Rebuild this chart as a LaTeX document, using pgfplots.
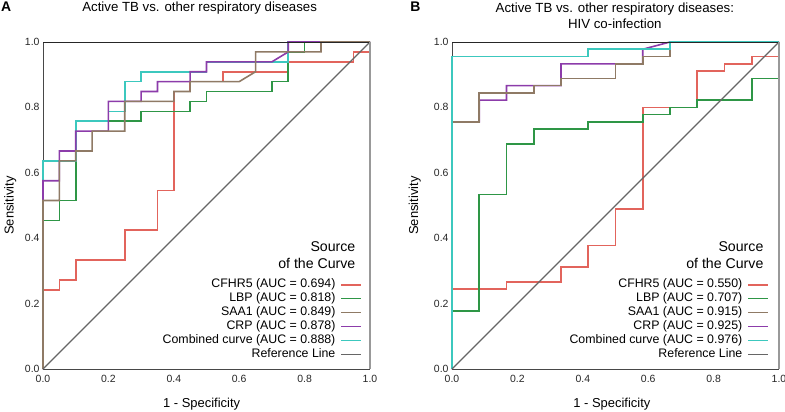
\documentclass[border=0pt]{standalone}
\usepackage{fontspec}
\setmainfont{Liberation Sans}
\usepackage{pgfplots}
\pgfplotsset{compat=1.18}

\definecolor{cRed}{HTML}{E2645C}
\definecolor{cGreen}{HTML}{2E9646}
\definecolor{cBrown}{HTML}{8F7A65}
\definecolor{cPurple}{HTML}{8C3CAA}
\definecolor{cCyan}{HTML}{3CC8BE}
\definecolor{cRef}{HTML}{666666}

\tikzset{
  srcnode/.style={anchor=base east, font=\fontsize{14.2}{16}\selectfont},
  curve/.style={line width=1.6bp, line join=miter},
  refline/.style={cRef, line width=1.2bp},
}

\pgfplotsset{
  roc/.style={
    scale only axis, width=327bp, height=327bp,
    xmin=0, xmax=1, ymin=0, ymax=1,
    axis lines=left,
    axis line style={-, draw=black!72, line width=0.9bp},
    xtick={0,0.2,0.4,0.6,0.8,1}, ytick={0,0.2,0.4,0.6,0.8,1},
    xticklabels={0.0,0.2,0.4,0.6,0.8,1.0},
    yticklabels={0.0,0.2,0.4,0.6,0.8,1.0},
    major tick length=0pt,
    tick label style={font=\fontsize{10.5}{12}\selectfont, text=black!85},
    xticklabel style={yshift=-3bp},
    clip=false,
    xlabel={1 - Specificity}, ylabel={Sensitivity},
    label style={font=\fontsize{13}{15}\selectfont},
    every axis title shift=0pt,
    title style={font=\fontsize{13.3}{16}\selectfont, align=center, anchor=center},
    legend plot pos=right,
    legend cell align=right,
    legend style={draw=none, fill=none, inner sep=0pt, outer sep=0pt,
      font=\fontsize{12.4}{13}\selectfont, row sep=2.3bp, column sep=5bp,
      nodes={inner sep=0pt, text height=9bp, text depth=2.6bp},
      anchor=south east},
    legend image code/.code={\draw[##1] (0bp,0bp) -- (20bp,0bp);},
  },
}

\begin{document}
\begin{tikzpicture}
\useasboundingbox (-43bp,-43bp) rectangle (742bp,369bp);

% ---------- A ----------
\begin{axis}[roc, at={(0bp,0bp)}, anchor=south west,
  title={Active TB vs. other respiratory diseases},
  title style={at={(rel axis cs:0.479,1.104)}},
  xlabel style={at={(rel axis cs:0.485,-0.119)}, anchor=base},
  ylabel style={at={(rel axis cs:-0.1,0.5)}, anchor=center},
  legend style={at={(rel axis cs:0.9755,0.0275)}},
]
\addlegendimage{cRed, curve}
\addlegendentry{CFHR5 (AUC = 0.694)}
\addlegendimage{cGreen, curve}
\addlegendentry{LBP (AUC = 0.818)}
\addlegendimage{cBrown, curve}
\addlegendentry{SAA1 (AUC = 0.849)}
\addlegendimage{cPurple, curve}
\addlegendentry{CRP (AUC = 0.878)}
\addlegendimage{cCyan, curve}
\addlegendentry{Combined curve (AUC = 0.888)}
\addlegendimage{refline}
\addlegendentry{Reference Line}

% CFHR5
\addplot[cRed, curve, forget plot] coordinates {(0,0)(0,0.2424)(0.05,0.2424)(0.05,0.2727)(0.1,0.2727)(0.1,0.3333)(0.25,0.3333)(0.25,0.4242)(0.35,0.4242)(0.35,0.5455)(0.4,0.5455)(0.4,0.8485)(0.45,0.8485)(0.45,0.8788)(0.55,0.8788)(0.55,0.9091)(0.75,0.9091)(0.75,0.9394)(0.95,0.9394)(0.95,0.9697)(1,0.9697)(1,1)};
% LBP
\addplot[cGreen, curve, forget plot] coordinates {(0,0)(0,0.4545)(0.05,0.4545)(0.05,0.5152)(0.1,0.5152)(0.1,0.7576)(0.3,0.7576)(0.3,0.7879)(0.45,0.7879)(0.45,0.8182)(0.5,0.8182)(0.5,0.8485)(0.7,0.8485)(0.7,0.8788)(0.75,0.8788)(0.75,0.9697)(0.8,0.9697)(0.8,1)(1,1)};
% Combined
\addplot[cCyan, curve, forget plot] coordinates {(0,0)(0,0.6364)(0.1,0.6364)(0.1,0.7576)(0.2,0.7576)(0.2,0.7879)(0.25,0.7879)(0.25,0.8788)(0.3,0.8788)(0.3,0.9091)(0.5,0.9091)(0.5,0.9394)(0.75,0.9394)(0.75,1)(1,1)};
% CRP
\addplot[cPurple, curve, forget plot] coordinates {(0,0)(0,0.5758)(0.05,0.5758)(0.05,0.6667)(0.1,0.6667)(0.1,0.7273)(0.2,0.7273)(0.2,0.8182)(0.3,0.8182)(0.3,0.8485)(0.35,0.8485)(0.35,0.8788)(0.45,0.8788)(0.45,0.9091)(0.5,0.9091)(0.5,0.9394)(0.7,0.9394)(0.75,0.9697)(0.75,1)(1,1)};
% SAA1
\addplot[cBrown, curve, forget plot] coordinates {(0,0)(0,0.5152)(0.05,0.5152)(0.05,0.6364)(0.1,0.6364)(0.1,0.6667)(0.15,0.6667)(0.15,0.7273)(0.25,0.7273)(0.25,0.8182)(0.4,0.8182)(0.4,0.8485)(0.45,0.8485)(0.45,0.8788)(0.6,0.8788)(0.65,0.9091)(0.65,0.9697)(0.85,0.9697)(0.85,1)(1,1)};
% Reference
\addplot[refline, forget plot] coordinates {(0,0)(1,1)};

\draw[black!85, line width=0.9bp] (rel axis cs:0,1) -- (rel axis cs:1,1);
\draw[black!40, line width=1.4bp] (rel axis cs:1,0) -- (rel axis cs:1,1);
\node[srcnode] at (rel axis cs:0.966,0.358) {Source};
\node[srcnode] at (rel axis cs:0.966,0.306) {of the Curve};
\node[font=\bfseries\fontsize{14}{16}\selectfont] at (rel axis cs:-0.113,1.107) {A};
\end{axis}

% ---------- B ----------
\begin{axis}[roc, at={(409bp,0bp)}, anchor=south west,
  title={Active TB vs. other respiratory diseases:\\HIV co-infection},
  title style={at={(rel axis cs:0.498,1.079)}},
  xlabel style={at={(rel axis cs:0.489,-0.119)}, anchor=base},
  ylabel style={at={(rel axis cs:-0.114,0.5)}, anchor=center},
  legend style={at={(rel axis cs:0.969,0.0275)}},
]
\addlegendimage{cRed, curve}
\addlegendentry{CFHR5 (AUC = 0.550)}
\addlegendimage{cGreen, curve}
\addlegendentry{LBP (AUC = 0.707)}
\addlegendimage{cBrown, curve}
\addlegendentry{SAA1 (AUC = 0.915)}
\addlegendimage{cPurple, curve}
\addlegendentry{CRP (AUC = 0.925)}
\addlegendimage{cCyan, curve}
\addlegendentry{Combined curve (AUC = 0.976)}
\addlegendimage{refline}
\addlegendentry{Reference Line}

% CFHR5
\addplot[cRed, curve, forget plot] coordinates {(0,0)(0,0.2444)(0.1667,0.2444)(0.1667,0.2667)(0.3333,0.2667)(0.3333,0.3111)(0.4167,0.3111)(0.4167,0.3778)(0.5,0.3778)(0.5,0.4889)(0.5833,0.4889)(0.5833,0.8)(0.75,0.8)(0.75,0.9111)(0.8333,0.9111)(0.8333,0.9333)(0.9167,0.9333)(0.9167,0.9556)(1,0.9556)(1,1)};
% LBP
\addplot[cGreen, curve, forget plot] coordinates {(0,0)(0,0.1778)(0.0833,0.1778)(0.0833,0.5333)(0.1667,0.5333)(0.1667,0.6889)(0.25,0.6889)(0.25,0.7333)(0.4167,0.7333)(0.4167,0.7556)(0.5833,0.7556)(0.5833,0.7778)(0.6667,0.7778)(0.6667,0.8)(0.75,0.8)(0.75,0.8222)(0.9167,0.8222)(0.9167,0.8889)(1,0.8889)(1,1)};
% CRP
\addplot[cPurple, curve, forget plot] coordinates {(0,0)(0,0.7556)(0.0833,0.7556)(0.0833,0.8222)(0.1667,0.8222)(0.1667,0.8667)(0.3333,0.8667)(0.3333,0.9333)(0.5833,0.9333)(0.5833,0.9778)(0.6667,1)(1,1)};
% SAA1
\addplot[cBrown, curve, forget plot] coordinates {(0,0)(0,0.7556)(0.0833,0.7556)(0.0833,0.8444)(0.25,0.8444)(0.25,0.8667)(0.3333,0.8667)(0.3333,0.8889)(0.5,0.8889)(0.5,0.9333)(0.5833,0.9333)(0.5833,0.9556)(0.6667,0.9556)(0.6667,1)(1,1)};
% Combined
\addplot[cCyan, curve, forget plot] coordinates {(0,0)(0,0.9556)(0.4167,0.9556)(0.4167,0.9778)(0.6667,0.9778)(0.6667,1)(1,1)};
% Reference
\addplot[refline, forget plot] coordinates {(0,0)(1,1)};

\draw[black!85, line width=0.9bp] (rel axis cs:0,1) -- (rel axis cs:1,1);
\draw[black!40, line width=1.4bp] (rel axis cs:1,0) -- (rel axis cs:1,1);
\node[srcnode] at (rel axis cs:0.963,0.358) {Source};
\node[srcnode] at (rel axis cs:0.963,0.306) {of the Curve};
\node[font=\bfseries\fontsize{14}{16}\selectfont] at (rel axis cs:-0.112,1.107) {B};
\end{axis}
\end{tikzpicture}
\end{document}
